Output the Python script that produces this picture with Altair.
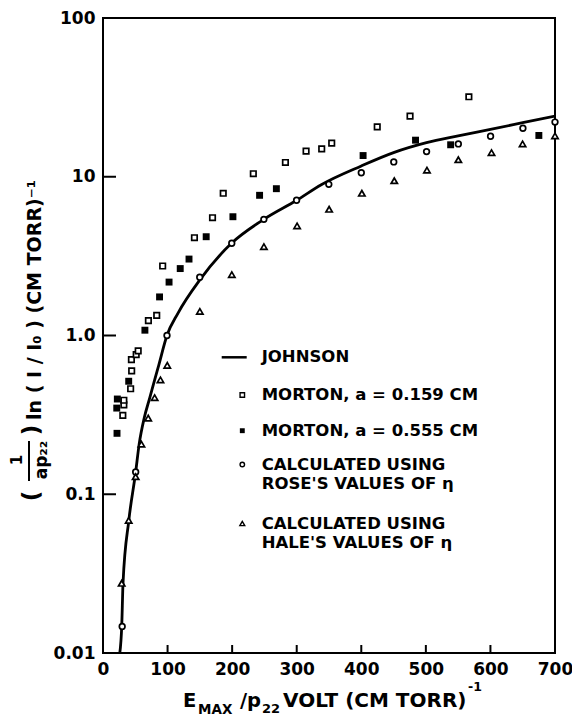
import altair as alt
import pandas as pd

# ---------------- data ----------------
johnson_x = [26, 29, 31, 40, 50.6, 56, 63.8, 72.5, 80, 86.3, 99, 116, 150, 199, 249, 300,
             338, 400, 450, 501, 550, 600, 650, 700]
johnson_y = [0.01, 0.0147, 0.0275, 0.0685, 0.138, 0.207, 0.302, 0.406, 0.525, 0.649, 1.0,
             1.38, 2.24, 3.81, 5.39, 7.11, 8.91, 11.7, 14.2, 16.4, 18.1, 19.9, 21.9, 24.1]

m159_x = [30.7, 32.3, 32.3, 42.8, 44.4, 44, 51.4, 54.5, 70.3, 83.2, 92.4, 141.6, 169.6,
          186.2, 232.8, 282.5, 314.5, 338.7, 354.2, 424.7, 475.5, 566.6]
m159_y = [0.314, 0.366, 0.391, 0.462, 0.598, 0.704, 0.757, 0.80, 1.24, 1.34, 2.74, 4.13,
          5.52, 7.87, 10.45, 12.3, 14.5, 15.0, 16.3, 20.6, 24.1, 31.9]

m555_x = [21.7, 21.3, 22.2, 39.8, 64.9, 87.6, 102.3, 119.6, 133.2, 159.8, 201.2, 242.5,
          268.5, 402.8, 484.0, 538.4, 675]
m555_y = [0.242, 0.349, 0.398, 0.515, 1.08, 1.75, 2.17, 2.64, 3.03, 4.19, 5.60, 7.64,
          8.41, 13.6, 17.0, 15.9, 18.2]

rose_x = [29.7, 50.6, 99.1, 149.8, 199.4, 249.1, 299.8, 349.7, 400.0, 450.3, 501.1,
          550.3, 600.2, 650.3, 700]
rose_y = [0.0147, 0.138, 1.0, 2.33, 3.81, 5.39, 7.11, 8.96, 10.6, 12.4, 14.4, 16.1,
          18.0, 20.2, 22.1]

hale_x = [28.9, 39.8, 50.6, 59.5, 70.0, 80.0, 89.0, 99.5, 150, 199.5, 249.2, 300.6,
          350.2, 400.9, 451.1, 501.7, 550.3, 601.7, 649.8, 700]
hale_y = [0.0275, 0.0685, 0.129, 0.207, 0.302, 0.406, 0.525, 0.649, 1.42, 2.42, 3.63,
          4.90, 6.24, 7.87, 9.44, 11.0, 12.8, 14.2, 16.1, 18.1]

x_ticks = [0, 100, 200, 300, 400, 500, 600, 700]
x_inner_ticks = [100, 200, 300, 400, 500, 600]
y_ticks = [0.01, 0.1, 1, 10, 100]
y_tick_labels = ["0.01", "0.1", "1.0", "10", "100"]
y_inner_ticks = [0.1, 1, 10]

legend_lines = [
    ["JOHNSON"],
    ["MORTON, a = 0.159 CM"],
    ["MORTON, a = 0.555 CM"],
    ["CALCULATED USING", "ROSE'S VALUES OF \u03b7"],
    ["CALCULATED USING", "HALE'S VALUES OF \u03b7"],
]

# ---------------- chart ----------------
FONT = "DejaVu Sans"
W, H = 452, 635

xs = alt.Scale(domain=[0, 700], nice=False, zero=False)
ys = alt.Scale(type="log", domain=[0.01, 100], nice=False)

label_expr = " : ".join(
    f"abs(datum.value - {v}) < {v * 0.01} ? '{lab}'" for v, lab in zip(y_ticks, y_tick_labels)
) + " : ''"

common_axis = dict(ticks=False, domain=False, grid=False, labelFont=FONT, labelFontSize=17,
                   labelFontWeight="bold", labelColor="black", labelPadding=8,
                   labelFlush=False, labelOverlap=False, title=None)
xaxis = alt.Axis(values=x_ticks, **common_axis)
yaxis = alt.Axis(values=y_ticks, labelExpr=label_expr, **common_axis)

X = alt.X("x:Q", scale=xs, axis=xaxis)
Y = alt.Y("y:Q", scale=ys, axis=yaxis)


def df(xv, yv):
    return pd.DataFrame({"x": xv, "y": yv})


layers = []

# Johnson curve
layers.append(
    alt.Chart(df(johnson_x, johnson_y)).mark_line(
        color="black", strokeWidth=2.8, interpolate="monotone", clip=True
    ).encode(x=X, y=Y)
)

pt = dict(color="black", opacity=1, strokeWidth=1.7)
layers.append(alt.Chart(df(m159_x, m159_y)).mark_point(shape="square", filled=False, size=30, fill="white", **pt).encode(x=X, y=Y))
layers.append(alt.Chart(df(m555_x, m555_y)).mark_point(shape="square", filled=True, size=48, color="black", opacity=1).encode(x=X, y=Y))
layers.append(alt.Chart(df(rose_x, rose_y)).mark_point(shape="circle", filled=False, size=32, fill="white", **pt).encode(x=X, y=Y))
layers.append(alt.Chart(df(hale_x, hale_y)).mark_point(shape="triangle-up", filled=False, size=40, fill="white", **pt).encode(x=X, y=Y))

# inward ticks
layers.append(
    alt.Chart(pd.DataFrame({"x": x_inner_ticks})).mark_rule(color="black", strokeWidth=2)
    .encode(x=X, y=alt.value(H), y2=alt.value(H - 8))
)
layers.append(
    alt.Chart(pd.DataFrame({"y": y_inner_ticks})).mark_rule(color="black", strokeWidth=2)
    .encode(y=Y, x=alt.value(0), x2=alt.value(13))
)


def txt(s, x, y, size=17, angle=0, align="left", baseline="middle"):
    return alt.Chart(pd.DataFrame({"t": [s]})).mark_text(
        font=FONT, fontSize=size, fontWeight="bold", color="black",
        align=align, baseline=baseline, angle=angle
    ).encode(text="t:N", x=alt.value(x), y=alt.value(y))


def sym(shape, filled, x, y, size):
    if filled:
        m = alt.Chart(pd.DataFrame({"t": [0]})).mark_point(shape=shape, filled=True, size=size, color="black", opacity=1)
    else:
        m = alt.Chart(pd.DataFrame({"t": [0]})).mark_point(shape=shape, filled=False, fill="white", size=size, color="black", opacity=1, strokeWidth=1.4)
    return m.encode(x=alt.value(x), y=alt.value(y))


# ---- legend ----
LX_SYM, LX_TXT = 139.3, 158.7
entry_y = [339.3, 377, 412.7, 446.5, 505.5]
line2_dy = 19.5
layers.append(
    alt.Chart(pd.DataFrame({"t": [0]})).mark_rule(color="black", strokeWidth=2.5)
    .encode(x=alt.value(118.7), x2=alt.value(143.7), y=alt.value(entry_y[0]))
)
syms = [None, ("square", False, 20), ("square", True, 24), ("circle", False, 20), ("triangle-up", False, 24)]
for i, lines in enumerate(legend_lines):
    if syms[i]:
        s, f, sz = syms[i]
        layers.append(sym(s, f, LX_SYM, entry_y[i], sz))
    for j, line in enumerate(lines):
        layers.append(txt(line, LX_TXT, entry_y[i] + j * line2_dy, size=16.5))

# ---- x title ----
layers.append(txt("E", 80, 689, size=19.5, baseline="alphabetic"))
layers.append(txt("MAX", 95, 695.5, size=13.5, baseline="alphabetic"))
layers.append(txt("/p", 137, 689, size=19.5, baseline="alphabetic"))
layers.append(txt("22", 159, 695, size=13, baseline="alphabetic"))
layers.append(txt("VOLT (CM TORR)", 180, 689, size=20, baseline="alphabetic"))
layers.append(txt("-1", 365, 673, size=12.5, baseline="alphabetic"))

# ---- y title (rotated) ----
layers.append(txt("(", -71, 478, size=23, angle=270, align="center"))
layers.append(txt("1", -86, 442, size=15, angle=270, align="center"))
layers.append(txt("ap\u2082\u2082", -61, 442, size=17, angle=270, align="center"))
layers.append(
    alt.Chart(pd.DataFrame({"t": [0]})).mark_rule(color="black", strokeWidth=2)
    .encode(x=alt.value(-74), y=alt.value(423), y2=alt.value(463))
)
layers.append(txt(")", -71, 412, size=23, angle=270, align="center"))
layers.append(txt("ln ( I / I\u2080 ) (CM TORR)\u207b\u00b9", -68, 402, size=19, angle=270, align="left"))

chart = alt.layer(*layers).properties(
    width=W, height=H,
    autosize=alt.AutoSizeParams(type="none"),
    padding={"left": 95, "top": 10, "right": 17, "bottom": 64},
    background="white",
).configure_view(stroke="black", strokeWidth=2)

chart.save("out.html", embed_options={"renderer": "svg", "actions": False})
